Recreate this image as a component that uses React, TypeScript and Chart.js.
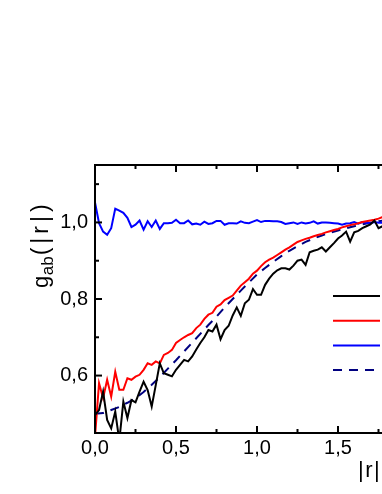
import React, { useEffect, useRef } from "react";
import { Chart, registerables } from "chart.js";

Chart.register(...registerables);

const rFine = [0,0.025,0.05,0.075,0.1,0.125,0.15,0.175,0.2,0.225,0.25,0.275,0.3,0.325,0.35,0.375,0.4,0.425,0.45,0.475,0.5,0.525,0.55,0.575,0.6,0.625,0.65,0.675,0.7,0.725,0.75,0.775,0.8,0.825,0.85,0.875,0.9,0.925,0.95,0.975,1.0,1.025,1.05,1.075,1.1,1.125,1.15,1.175,1.2,1.225,1.25,1.275,1.3,1.325,1.35,1.375,1.4,1.425,1.45,1.475,1.5,1.525,1.55,1.575,1.6,1.625,1.65,1.675,1.7,1.725,1.75,1.775,1.8,1.825,1.85,1.875,1.9,1.925,1.95,1.975,2.0];

const rCoarse = [0,0.05,0.1,0.15,0.2,0.25,0.3,0.35,0.4,0.45,0.5,0.55,0.6,0.65,0.7,0.75,0.8,0.85,0.9,0.95,1.0,1.05,1.1,1.15,1.2,1.25,1.3,1.35,1.4,1.45,1.5,1.55,1.6,1.65,1.7,1.75,1.8,1.85,1.9,1.95,2.0];

const blackSeries = [0.497,0.510,0.558,0.484,0.462,0.506,0.430,0.532,0.489,0.536,0.530,0.558,0.584,0.562,0.519,0.575,0.632,0.606,0.602,0.598,0.615,0.628,0.641,0.637,0.650,0.668,0.685,0.700,0.719,0.715,0.733,0.695,0.719,0.730,0.757,0.778,0.756,0.789,0.798,0.826,0.811,0.811,0.837,0.853,0.866,0.875,0.880,0.880,0.877,0.887,0.900,0.903,0.889,0.922,0.926,0.929,0.935,0.924,0.935,0.946,0.958,0.966,0.976,0.950,0.974,0.978,0.985,0.990,0.995,1.005,0.985,0.990,0.995,1.003,0.998,1.006,1.000,0.996,1.004,1.001,0.999];

const redSeries = [0.440,0.580,0.541,0.589,0.545,0.610,0.563,0.563,0.593,0.589,0.597,0.602,0.615,0.632,0.628,0.637,0.632,0.654,0.659,0.667,0.685,0.693,0.700,0.706,0.711,0.724,0.733,0.748,0.759,0.764,0.780,0.786,0.797,0.803,0.809,0.822,0.835,0.844,0.853,0.866,0.874,0.886,0.896,0.903,0.908,0.915,0.922,0.929,0.935,0.942,0.949,0.953,0.957,0.960,0.964,0.967,0.970,0.974,0.977,0.980,0.983,0.987,0.990,0.993,0.995,0.998,1.001,1.003,1.005,1.007,1.010,1.014,1.015,1.013,1.014,1.012,1.013,1.011,1.012,1.010,1.011];

const blueSeries = [1.052,0.998,0.976,0.968,0.985,1.036,1.031,1.025,1.012,0.988,0.994,1.005,0.981,1.003,0.988,1.005,0.983,0.998,0.998,0.999,1.007,0.998,0.998,1.005,0.995,0.997,0.994,1.002,0.996,0.998,1.004,1.004,0.994,0.998,0.998,0.997,1.003,0.999,0.998,1.002,1.006,1.001,1.004,1.004,1.003,1.003,1.001,0.996,0.998,1.000,0.996,1.000,0.997,0.999,1.003,0.997,1.000,1.000,0.999,0.998,0.997,0.994,0.997,0.998,1.001,0.997,1.001,0.999,0.998,1.001,0.999,1.000,0.998,1.001,1.000,0.999,1.001,1.000,0.999,1.000,1.000];

const dashedSeries = [0.500,0.502,0.510,0.518,0.529,0.541,0.557,0.576,0.596,0.618,0.640,0.663,0.686,0.709,0.732,0.754,0.778,0.800,0.822,0.843,0.864,0.881,0.897,0.912,0.926,0.938,0.949,0.958,0.966,0.973,0.979,0.985,0.990,0.995,0.999,1.003,1.006,1.008,1.010,1.011,1.012];

const seriesLabels = ["AA", "AB", "BB", "theory"];
const xTickValues = [0, 0.5, 1.0, 1.5, 2.0];
const xMinorValues = [0.25, 0.75, 1.25, 1.75];
const yTickValues = [0.6, 0.8, 1.0];
const yMinorValues = [0.7, 0.9, 1.1];

const FONT = '"Liberation Sans", Arial, sans-serif';

const fmt = (v: number) => v.toFixed(1).replace(".", ",");

const framePlugin = {
  id: "frameTicks",
  afterDraw(chart: any) {
    const { ctx, chartArea, scales } = chart;
    const { left, right, top, bottom } = chartArea;
    const xs = scales.x;
    const ys = scales.y;
    ctx.save();
    ctx.strokeStyle = "#000";
    ctx.lineWidth = 2;
    ctx.strokeRect(left, top, right - left, bottom - top);
    const seg = (x1: number, y1: number, x2: number, y2: number) => {
      ctx.beginPath();
      ctx.moveTo(x1, y1);
      ctx.lineTo(x2, y2);
      ctx.stroke();
    };
    xTickValues.forEach((v) => {
      const p = xs.getPixelForValue(v);
      seg(p, bottom, p, bottom - 7);
      seg(p, top, p, top + 7);
    });
    xMinorValues.forEach((v) => {
      const p = xs.getPixelForValue(v);
      seg(p, bottom, p, bottom - 4);
      seg(p, top, p, top + 4);
    });
    yTickValues.forEach((v) => {
      const p = ys.getPixelForValue(v);
      seg(left, p, left + 7, p);
      seg(right, p, right - 7, p);
    });
    yMinorValues.forEach((v) => {
      const p = ys.getPixelForValue(v);
      seg(left, p, left + 4, p);
      seg(right, p, right - 4, p);
    });

    // legend
    const ds = chart.data.datasets;
    ds.forEach((d: any, i: number) => {
      const y = 296 + i * 24.7;
      ctx.strokeStyle = d.borderColor;
      ctx.lineWidth = 2;
      ctx.setLineDash(d.borderDash || []);
      seg(333, y, 380, y);
      ctx.setLineDash([]);
      ctx.fillStyle = "#000";
      ctx.font = `20px ${FONT}`;
      ctx.textBaseline = "middle";
      ctx.textAlign = "left";
      ctx.fillText(d.label, 388, y);
    });

    // y title
    ctx.fillStyle = "#000";
    ctx.textBaseline = "alphabetic";
    ctx.textAlign = "left";
    ctx.save();
    ctx.translate(48, 288);
    ctx.rotate(-Math.PI / 2);
    let pos = 0;
    ctx.font = `22px ${FONT}`;
    ctx.fillText("g", pos, 0);
    pos += ctx.measureText("g").width;
    ctx.font = `17px ${FONT}`;
    ctx.fillText("ab", pos + 0.5, 5);
    pos += ctx.measureText("ab").width + 1.5;
    ctx.font = `23px ${FONT}`;
    for (const ch of "(|r|)") {
      ctx.fillText(ch, pos, 0);
      pos += ctx.measureText(ch).width + 4;
    }
    ctx.restore();

    // x title
    ctx.font = `22px ${FONT}`;
    let xp = 358;
    for (const ch of "|r|, nm") {
      ctx.fillText(ch, xp, 477);
      xp += ctx.measureText(ch).width + 1.5;
    }
    ctx.restore();
  },
};

export default function App() {
  const ref = useRef<HTMLCanvasElement>(null);
  useEffect(() => {
    const toPts = (xs: number[], ys: number[]) => xs.map((x, i) => ({ x, y: ys[i] }));
    const chart = new Chart(ref.current as HTMLCanvasElement, {
      type: "line",
      data: {
        datasets: [
          { label: seriesLabels[0], data: toPts(rFine, blackSeries), borderColor: "#000000", borderWidth: 2 },
          { label: seriesLabels[1], data: toPts(rFine, redSeries), borderColor: "#ff0000", borderWidth: 2 },
          { label: seriesLabels[2], data: toPts(rFine, blueSeries), borderColor: "#0000ff", borderWidth: 2 },
          { label: seriesLabels[3], data: toPts(rCoarse, dashedSeries), borderColor: "#000080", borderWidth: 2, borderDash: [9, 7] },
        ] as any,
      },
      options: {
        responsive: false,
        animation: false,
        devicePixelRatio: 1,
        layout: { padding: { left: 0, top: 165, right: 61, bottom: 0 } },
        elements: { point: { radius: 0 }, line: { tension: 0, fill: false } },
        plugins: { legend: { display: false }, tooltip: { enabled: false } },
        scales: {
          x: {
            type: "linear",
            min: 0,
            max: 2.0,
            grid: { display: false, drawTicks: false },
            border: { display: false },
            afterFit: (s: any) => { s.height = 61; },
            afterBuildTicks: (s: any) => { s.ticks = xTickValues.map((v) => ({ value: v })); },
            ticks: {
              autoSkip: false,
              maxRotation: 0,
              padding: 3,
              color: "#000",
              font: { family: FONT, size: 20 },
              callback: (v: any) => fmt(Number(v)),
            },
          },
          y: {
            type: "linear",
            min: 0.45,
            max: 1.15,
            grid: { display: false, drawTicks: false },
            border: { display: false },
            afterFit: (s: any) => { s.width = 95; },
            afterBuildTicks: (s: any) => { s.ticks = yTickValues.map((v) => ({ value: v })); },
            ticks: {
              padding: 7,
              color: "#000",
              font: { family: FONT, size: 20 },
              callback: (v: any) => fmt(Number(v)),
            },
          },
        },
      } as any,
      plugins: [framePlugin],
    });
    return () => chart.destroy();
  }, []);
  return (
    <div style={{ position: "absolute", left: 0, top: 0, width: 382, height: 494, overflow: "hidden", background: "#fff" }}>
      <canvas ref={ref} width={480} height={494} style={{ display: "block", width: 480, height: 494 }} />
    </div>
  );
}
